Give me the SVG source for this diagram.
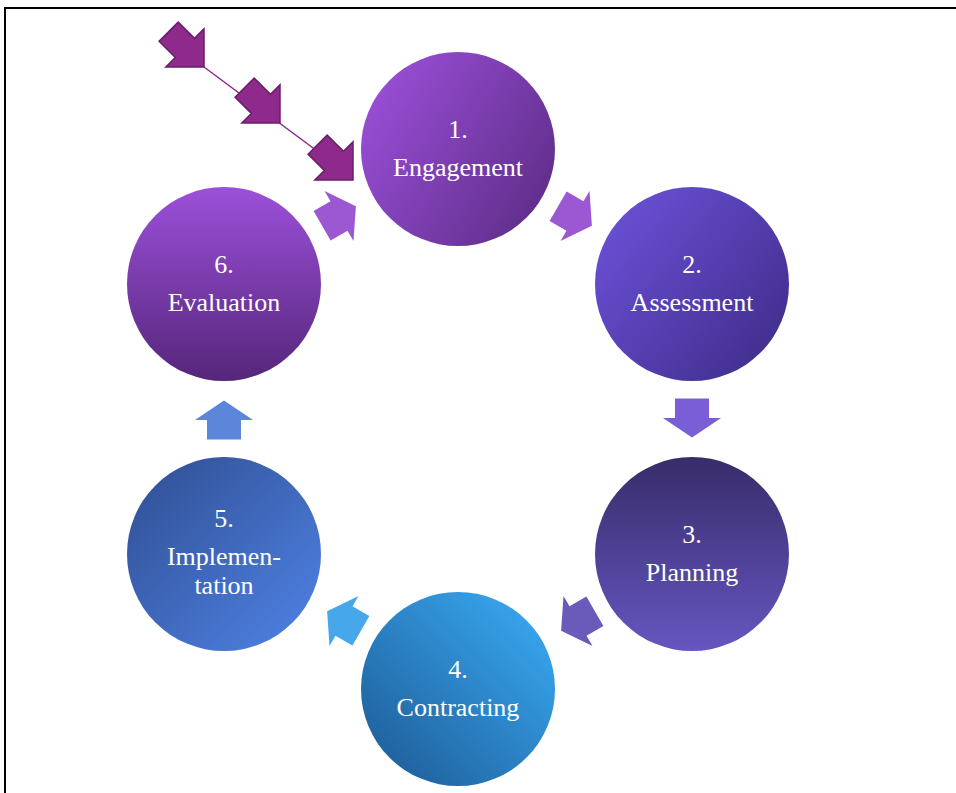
<svg xmlns="http://www.w3.org/2000/svg" width="956" height="793" viewBox="0 0 956 793">
<style>
.lbl{font-family:"Liberation Serif","Times New Roman",serif;font-size:26px;fill:#ffffff;text-anchor:middle}
.da{fill:#8e2a8c;stroke:#6b1c6a;stroke-width:1.5}
</style>
<defs>
<linearGradient id="g1" x1="0" y1="0.2" x2="1" y2="0.8"><stop offset="0" stop-color="#9b4fd8"/><stop offset="1" stop-color="#5e2d88"/></linearGradient>
<linearGradient id="g2" x1="0" y1="0.1" x2="1" y2="0.9"><stop offset="0" stop-color="#6c52da"/><stop offset="1" stop-color="#3f2c88"/></linearGradient>
<linearGradient id="g3" x1="0" y1="0" x2="0" y2="1"><stop offset="0" stop-color="#382c6a"/><stop offset="1" stop-color="#6556c0"/></linearGradient>
<linearGradient id="g4" x1="0.1" y1="0.9" x2="0.9" y2="0.1"><stop offset="0" stop-color="#1f609c"/><stop offset="1" stop-color="#38a6ee"/></linearGradient>
<linearGradient id="g5" x1="0.1" y1="0.1" x2="0.9" y2="0.9"><stop offset="0" stop-color="#33539a"/><stop offset="1" stop-color="#4c7ede"/></linearGradient>
<linearGradient id="g6" x1="0" y1="0" x2="0" y2="1"><stop offset="0" stop-color="#9c50da"/><stop offset="1" stop-color="#55267a"/></linearGradient>
<path id="ca" d="M-19.5,-17 L0,-17 L0,-29 L19.5,0 L0,29 L0,17 L-19.5,17 Z"/>
<path id="dg" d="M0,0 L-27,-27 L-27,-13.5 L-50,-13.5 L-50,13.5 L-27,13.5 L-27,27 Z"/>
</defs>
<rect x="5" y="8" width="960" height="800" fill="#ffffff" stroke="#000000" stroke-width="2"/>
<g id="connectors">
<use href="#ca" transform="translate(575,216) rotate(30)" fill="#9b58d2"/>
<use href="#ca" transform="translate(692,418) rotate(90)" fill="#7a5ed8"/>
<use href="#ca" transform="translate(578,621) rotate(150)" fill="#6a5bba"/>
<use href="#ca" transform="translate(344,621) rotate(210)" fill="#46a7ea"/>
<use href="#ca" transform="translate(224,420) rotate(-90)" fill="#5b86da"/>
<use href="#ca" transform="translate(339,216) rotate(-30)" fill="#9b58d2"/>
<line x1="204" y1="67" x2="340" y2="168" stroke="#8e2a8c" stroke-width="1.5"/>
<use href="#dg" class="da" transform="translate(204,67) rotate(45)"/>
<use href="#dg" class="da" transform="translate(280,123) rotate(45)"/>
<use href="#dg" class="da" transform="translate(353,180) rotate(45)"/>
</g>
<g id="n1"><circle cx="458" cy="149" r="97" fill="url(#g1)"/><text class="lbl" x="458" y="138">1.</text><text class="lbl" x="458" y="176">Engagement</text></g>
<g id="n2"><circle cx="692" cy="284" r="97" fill="url(#g2)"/><text class="lbl" x="692" y="273">2.</text><text class="lbl" x="692" y="311">Assessment</text></g>
<g id="n3"><circle cx="692" cy="554" r="97" fill="url(#g3)"/><text class="lbl" x="692" y="543">3.</text><text class="lbl" x="692" y="581">Planning</text></g>
<g id="n4"><circle cx="458" cy="689" r="97" fill="url(#g4)"/><text class="lbl" x="458" y="678">4.</text><text class="lbl" x="458" y="716">Contracting</text></g>
<g id="n5"><circle cx="224" cy="554" r="97" fill="url(#g5)"/><text class="lbl" x="224" y="527">5.</text><text class="lbl" x="224" y="565">Implemen-</text><text class="lbl" x="224" y="594">tation</text></g>
<g id="n6"><circle cx="224" cy="284" r="97" fill="url(#g6)"/><text class="lbl" x="224" y="273">6.</text><text class="lbl" x="224" y="311">Evaluation</text></g>
</svg>
